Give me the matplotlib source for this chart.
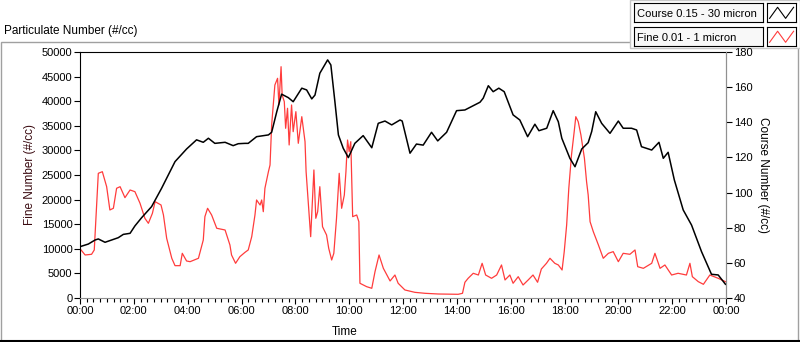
import matplotlib.pyplot as plt
from matplotlib.patches import Rectangle
from matplotlib.ticker import MultipleLocator, FuncFormatter

# time in hours since midnight
course_t = [0.0, 0.31, 0.56, 0.68, 0.93, 1.42, 1.61, 1.86, 2.04, 2.29, 2.66, 3.03,
            3.53, 3.96, 4.33, 4.58, 4.77, 5.01, 5.39, 5.69, 5.88, 6.13, 6.25, 6.56,
            7.0, 7.12, 7.31, 7.49, 7.74, 7.92, 8.24, 8.42, 8.61, 8.73, 8.91, 9.2,
            9.32, 9.47, 9.60, 9.78, 9.97, 10.21, 10.52, 10.84, 11.08, 11.33, 11.58,
            11.89, 11.97, 12.26, 12.50, 12.75, 13.06, 13.29, 13.62, 13.99, 14.30,
            14.86, 14.98, 15.17, 15.35, 15.56, 15.76, 16.09, 16.34, 16.63, 16.90,
            17.05, 17.34, 17.58, 17.77, 17.90, 18.20, 18.39, 18.64, 18.88, 19.01,
            19.16, 19.38, 19.69, 20.0, 20.18, 20.49, 20.68, 20.86, 21.24, 21.51,
            21.67, 21.85, 22.08, 22.41, 22.72, 23.09, 23.46, 23.71, 23.98]
course_n = [69.2, 70.7, 73.0, 73.6, 71.7, 74.3, 76.2, 76.8, 81.0, 85.7, 92.0, 102.4,
            117.6, 124.8, 130.0, 128.6, 130.9, 128.0, 128.6, 126.7, 127.8, 128.0, 128.0, 131.8,
            132.8, 134.3, 146.0, 156.0, 154.0, 151.7, 159.4, 158.4, 153.3, 155.5, 167.9, 175.5,
            172.6, 151.7, 132.8, 125.2, 119.9, 128.0, 132.4, 125.5, 139.4, 140.7, 138.5,
            141.3, 140.7, 122.4, 127.6, 127.0, 134.3, 129.4, 134.3, 146.6, 147.0,
            151.4, 153.7, 160.8, 157.4, 159.4, 157.4, 144.2, 141.3, 131.8, 138.9,
            135.2, 136.6, 146.6, 140.3, 130.9, 119.5, 114.7, 124.8, 128.4, 134.7,
            146.0, 139.4, 133.7, 140.7, 136.6, 136.6, 135.6, 126.1, 124.2, 128.6,
            119.5, 122.9, 107.2, 90.1, 81.5, 66.4, 53.5, 53.1, 47.8]

fine_t = [0.04, 0.19, 0.43, 0.53, 0.58, 0.68, 0.83, 0.99, 1.11, 1.24, 1.36, 1.49,
          1.67, 1.86, 2.04, 2.23, 2.41, 2.54, 2.69, 2.79, 3.01, 3.10, 3.22, 3.41,
          3.53, 3.72, 3.80, 3.96, 4.09, 4.40, 4.58, 4.64, 4.74, 4.89, 5.08, 5.39,
          5.57, 5.63, 5.78, 5.94, 6.13, 6.25, 6.38, 6.50, 6.56, 6.69, 6.75, 6.81,
          6.87, 7.0, 7.06, 7.12, 7.24, 7.34, 7.39, 7.47, 7.51, 7.59, 7.64, 7.71,
          7.77, 7.86, 7.92, 8.02, 8.11, 8.24, 8.36, 8.40, 8.48, 8.57, 8.64, 8.69,
          8.76, 8.83, 8.91, 9.01, 9.16, 9.24, 9.35, 9.43, 9.53, 9.63, 9.72, 9.82,
          9.88, 9.94, 10.0, 10.06, 10.13, 10.28, 10.36, 10.40, 10.65, 10.84, 10.96,
          11.11, 11.27, 11.52, 11.70, 11.82, 12.07, 12.44, 12.82, 13.31, 14.05,
          14.21, 14.30, 14.42, 14.61, 14.80, 14.94, 15.07, 15.29, 15.48, 15.66,
          15.79, 15.97, 16.09, 16.28, 16.46, 16.65, 16.83, 17.0, 17.14, 17.33,
          17.46, 17.64, 17.77, 17.91, 17.99, 18.08, 18.16, 18.26, 18.36, 18.42,
          18.51, 18.61, 18.74, 18.82, 18.88, 18.95, 19.07, 19.26, 19.44, 19.63,
          19.81, 20.0, 20.18, 20.43, 20.62, 20.72, 20.93, 21.24, 21.36, 21.55,
          21.73, 21.98, 22.22, 22.53, 22.66, 22.75, 22.97, 23.16, 23.40, 23.71, 23.98]
fine_n = [9760, 8740, 8880, 9760, 14840, 25340, 25670, 22620, 17890, 18230, 22300, 22620,
          20390, 21950, 21610, 19250, 16200, 15180, 17210, 19580, 18900, 16870, 12130, 8070,
          6570, 6570, 9080, 7520, 7380, 8070, 11790, 16530, 18230, 16870, 14170, 13820,
          10770, 8740, 7050, 8400, 9280, 9760, 12460, 16870, 19920, 18900, 19920, 17540,
          22300, 25670, 27030, 35160, 43290, 44650, 39230, 47010, 41260, 39900, 34490, 38560,
          31100, 39230, 33800, 37870, 31440, 36850, 31770, 25670, 19580, 12460, 20260, 26020,
          16200, 17540, 22620, 14490, 12800, 10100, 7720, 9080, 16200, 25340, 18230, 20930,
          25670, 32110, 29740, 31770, 16530, 16870, 15510, 2990, 2300, 1970, 5350,
          8740, 6030, 3460, 4670, 2990, 1630, 1150, 950, 810, 750,
          950, 3190, 4000, 5020, 4670, 7050, 4670, 4000, 4670, 6710,
          3660, 4670, 2990, 4330, 2640, 3660, 4670, 3190, 5890, 7050,
          8070, 7050, 6710, 5690, 9420, 14840, 22300, 29070, 33800, 36850,
          35830, 33130, 28390, 23640, 20930, 15510, 13480, 10770, 8070, 9080,
          9420, 7380, 9080, 8880, 9760, 6360, 6030, 7050, 9080, 6030,
          6710, 4670, 5020, 4670, 7050, 4330, 3320, 2780, 4670, 4000, 3320]

fine_ticks = list(range(0, 50001, 5000))
course_ticks = list(range(40, 181, 20))
legend_labels = ["Course 0.15 - 30 micron", "Fine 0.01 - 1 micron"]
legend_colors = ["black", "#ff3c3c"]
icon_x = [0, 1, 2, 3]
icon_y = [0, 1, 0, 1]

plt.rcParams["font.family"] = ["Liberation Sans", "DejaVu Sans"]
fs = 8

fig = plt.figure(figsize=(8, 3.42), dpi=100)

# outer panel frame
fig.patches.append(Rectangle((0.001, 0.002), 0.997, 0.876, transform=fig.transFigure,
                             fill=False, edgecolor="#a0a0a0", lw=1, zorder=-2))
fig.lines.append(plt.Line2D([0, 1], [0.003, 0.003], transform=fig.transFigure,
                            color="black", lw=1.5))
fig.text(0.005, 0.91, "Particulate Number (#/cc)", fontsize=8.5, va="center", ha="left")

ax = fig.add_axes([0.1, 0.1287, 0.8075, 0.7193])
ax2 = ax.twinx()

ax.plot(fine_t, fine_n, color="#ff3c3c", lw=0.9)
ax2.plot(course_t, course_n, color="black", lw=1.1)

ax.set_xlim(0, 24)
ax.set_ylim(0, 50000)
ax2.set_ylim(40, 180)
ax.set_yticks(fine_ticks)
ax2.set_yticks(course_ticks)
ax.xaxis.set_major_locator(MultipleLocator(2))
ax.xaxis.set_minor_locator(MultipleLocator(0.25))
ax.xaxis.set_major_formatter(FuncFormatter(lambda v, p: f"{int(v) % 24:02d}:00"))

ax.tick_params(axis="both", which="major", labelsize=fs, length=4, width=0.8, pad=1.5)
ax.tick_params(axis="x", which="minor", length=3, width=0.8)
ax2.tick_params(axis="y", labelsize=fs, length=4, width=0.8, pad=1.5)

for s in ["top", "left"]:
    ax.spines[s].set_color("black")
for s in ["bottom", "right"]:
    ax.spines[s].set_color("#909090")
for s in ax2.spines.values():
    s.set_visible(False)
ax2.spines["right"].set_visible(True)
ax2.spines["right"].set_color("#909090")

ax.set_xlabel("Time", fontsize=8.5, labelpad=1)
ax.xaxis.set_label_coords(0.41, -0.115)
ax.set_ylabel("Fine Number (#/cc)", fontsize=8.5, color="#3a0a10", labelpad=4)
ax2.set_ylabel("Course Number (#/cc)", fontsize=8.5, rotation=270, labelpad=12)

# legend panel (LabVIEW style)
fig.patches.append(Rectangle((0.787, 0.86), 0.213, 0.14, transform=fig.transFigure,
                             facecolor="white", edgecolor="#c8c8c8", lw=1, zorder=-1))
rows = [0.935, 0.865]
for label, col, yb in zip(legend_labels, legend_colors, rows):
    tax = fig.add_axes([0.7925, yb, 0.161, 0.055])
    tax.set_xticks([])
    tax.set_yticks([])
    tax.set_facecolor("#f8f8f8")
    for s in tax.spines.values():
        s.set_color("black")
        s.set_linewidth(0.8)
    tax.text(0.025, 0.45, label, fontsize=8, va="center", ha="left", transform=tax.transAxes)
    iax = fig.add_axes([0.959, yb, 0.036, 0.055])
    iax.plot(icon_x, icon_y, color=col, lw=0.8)
    iax.set_xlim(-0.3, 3.3)
    iax.set_ylim(-0.35, 1.35)
    iax.set_xticks([])
    iax.set_yticks([])
    for s in iax.spines.values():
        s.set_color("black")
        s.set_linewidth(0.8)

fig.savefig("out.png", dpi=100)
